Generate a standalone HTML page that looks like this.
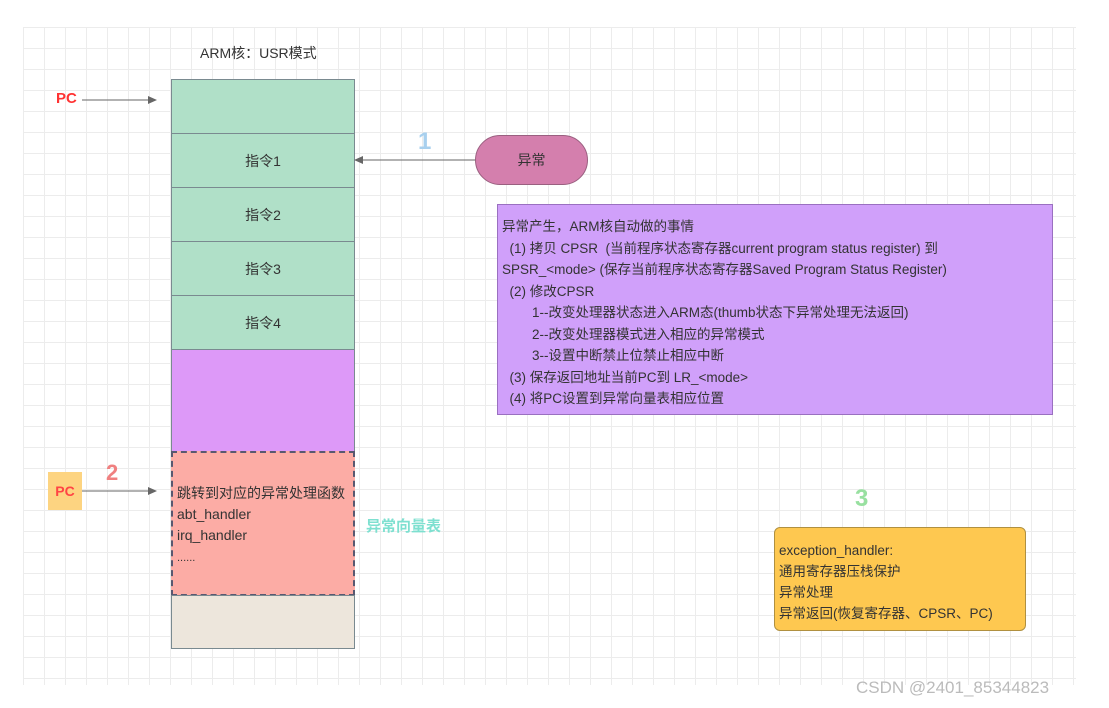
<!DOCTYPE html>
<html><head><meta charset="utf-8"><style>
body{margin:0;width:1109px;height:708px;background:#fff;position:relative;overflow:hidden;font-family:"Liberation Sans","Noto Sans CJK SC",sans-serif;color:#333}
.grid{position:absolute;left:23px;top:27px;width:1053px;height:658px;background-image:linear-gradient(#ececec 1px,transparent 1px),linear-gradient(90deg,#ececec 1px,transparent 1px);background-size:21px 21px}
.a{position:absolute;box-sizing:border-box}
.cell{position:absolute;left:171px;width:184px;box-sizing:border-box;border:1px solid #7a8a90;display:flex;align-items:center;justify-content:center;font-size:14px}
.t{position:absolute;white-space:nowrap}
</style></head><body>
<div class="grid"></div>
<div class="t" style="left:200px;top:43px;font-size:14px">ARM核：USR模式</div>
<div class="cell" style="top:79px;height:55px;background:#b0e0c8"></div>
<div class="cell" style="top:133px;height:55px;background:#b0e0c8">指令1</div>
<div class="cell" style="top:187px;height:55px;background:#b0e0c8">指令2</div>
<div class="cell" style="top:241px;height:55px;background:#b0e0c8">指令3</div>
<div class="cell" style="top:295px;height:55px;background:#b0e0c8">指令4</div>
<div class="cell" style="top:349px;height:103px;background:#dd99f8"></div>
<div class="cell" style="top:451px;height:145px;background:#fcaca5;border:2px dashed #585870;display:block;padding:30px 0 0 4px;line-height:21px;font-size:14px">跳转到对应的异常处理函数<br>abt_handler<br>irq_handler<br><span style="font-size:11px">......</span></div>
<div class="cell" style="top:595px;height:54px;background:#ede6dc"></div>
<div class="t" style="left:56px;top:90px;color:#f33;font-weight:bold;font-size:15px">PC</div>
<svg class="a" style="left:0;top:0" width="1109" height="708">
<line x1="82" y1="100" x2="150" y2="100" stroke="#666"/><polygon points="157,100 148,96 148,104" fill="#666"/>
<line x1="82" y1="491" x2="150" y2="491" stroke="#666"/><polygon points="157,491 148,487 148,495" fill="#666"/>
<line x1="362" y1="160" x2="476" y2="160" stroke="#666"/><polygon points="354,160 363,156 363,164" fill="#666"/>
</svg>
<div class="a" style="left:475px;top:135px;width:113px;height:50px;border-radius:25px;background:#d47fad;border:1px solid #9a6080;display:flex;align-items:center;justify-content:center;font-size:14px">异常</div>
<div class="t" style="left:418px;top:128px;font-size:24px;font-weight:bold;color:#a8d0ee">1</div>
<div class="a" style="left:48px;top:472px;width:34px;height:38px;background:#fdd481;color:#f44;font-weight:bold;font-size:14px;display:flex;align-items:center;justify-content:center">PC</div>
<div class="t" style="left:106px;top:460px;font-size:22px;font-weight:bold;color:#f08080">2</div>
<div class="t" style="left:366px;top:515px;font-size:15px;font-weight:bold;color:#7ee0d0">异常向量表</div>
<div class="a" style="left:497px;top:204px;width:556px;height:211px;background:#d0a0fa;border:1px solid #9a70c0;padding:11px 0 0 4px;font-size:13.5px;line-height:21.5px;white-space:pre">异常产生，ARM核自动做的事情
  (1) 拷贝 CPSR  (当前程序状态寄存器current program status register) 到
SPSR_&lt;mode&gt; (保存当前程序状态寄存器Saved Program Status Register)
  (2) 修改CPSR
        1--改变处理器状态进入ARM态(thumb状态下异常处理无法返回)
        2--改变处理器模式进入相应的异常模式
        3--设置中断禁止位禁止相应中断
  (3) 保存返回地址当前PC到 LR_&lt;mode&gt;
  (4) 将PC设置到异常向量表相应位置</div>
<div class="t" style="left:855px;top:485px;font-size:24px;font-weight:bold;color:#98e0a0">3</div>
<div class="a" style="left:774px;top:527px;width:252px;height:104px;background:#fec850;border:1px solid #b09040;border-radius:6px;padding:12px 0 0 4px;font-size:13.5px;line-height:21px">exception_handler:<br>通用寄存器压栈保护<br>异常处理<br>异常返回(恢复寄存器、CPSR、PC)</div>
<div class="t" style="left:856px;top:678px;font-size:17px;color:#bbb">CSDN @2401_85344823</div>
</body></html>
